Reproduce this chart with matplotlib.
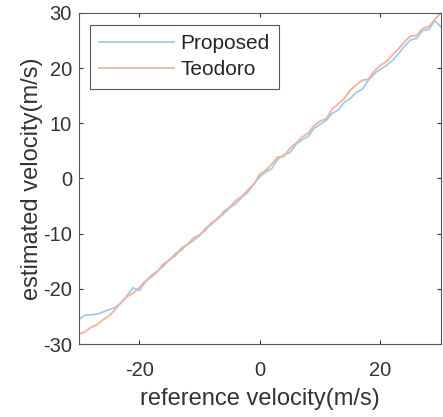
import numpy as np
import matplotlib.pyplot as plt
from matplotlib.ticker import FuncFormatter

plt.rcParams['font.family'] = ['Liberation Sans', 'DejaVu Sans']

ref = np.arange(-30, 31, 1)
proposed = [-25.5, -24.8, -24.7, -24.6, -24.2, -23.8, -23.4, -22.5, -21.2, -19.8,
            -20.3, -18.8, -17.6, -16.8, -15.9, -14.7, -14.0, -12.6, -12.0, -11.2,
            -10.4, -9.0, -8.3, -7.2, -6.4, -5.3, -4.6, -3.4, -2.5, -1.0,
            0.3, 1.2, 1.8, 3.5, 4.3, 4.7, 6.2, 7.0, 7.6, 9.1,
            9.8, 10.5, 11.8, 12.4, 13.8, 14.5, 15.6, 16.2, 17.8, 19.0,
            19.8, 20.5, 21.4, 22.6, 24.0, 25.1, 25.4, 26.8, 27.0, 28.6, 27.5]
teodoro = [-28.2, -27.8, -27.0, -26.5, -25.6, -24.9, -23.8, -22.5, -21.4, -20.8,
           -19.8, -18.6, -17.9, -16.9, -15.5, -14.8, -13.6, -13.0, -11.9, -10.8,
           -10.2, -9.4, -8.0, -7.4, -6.0, -5.2, -4.0, -3.3, -2.1, -1.1,
           0.8, 1.5, 2.6, 3.9, 4.0, 5.5, 6.4, 7.5, 8.2, 9.6,
           10.4, 10.8, 12.6, 13.5, 14.5, 16.0, 17.0, 17.8, 18.0, 19.5,
           20.5, 21.2, 22.4, 23.5, 24.8, 25.8, 25.9, 27.2, 27.5, 28.8, 30.0]

fig = plt.figure(figsize=(4.43, 4.17), dpi=100)
ax = fig.add_axes([0.178, 0.175, 0.817, 0.794])

ax.plot(ref, proposed, color='#a3cbe9', lw=1.3, label='Proposed')
ax.plot(ref, teodoro, color='#f1b39b', lw=1.3, label='Teodoro')

ax.set_xlim(-30, 30)
ax.set_ylim(-30, 30)
ax.set_xticks([-20, 0, 20])
ax.set_yticks(np.arange(-30, 31, 10))
fmt = FuncFormatter(lambda v, p: '%d' % v)
ax.xaxis.set_major_formatter(fmt)
ax.yaxis.set_major_formatter(fmt)
ax.tick_params(direction='in', top=True, right=True, labelsize=14.5,
               colors='#333333', length=3, pad=5)
ax.tick_params(axis='x', pad=12)
for s in ax.spines.values():
    s.set_color('#555555')
    s.set_linewidth(0.8)

ax.set_xlabel('reference velocity(m/s)', fontsize=17, color='#333333', labelpad=6)
ax.set_ylabel('estimated velocity(m/s)', fontsize=17, color='#333333', labelpad=0)

leg = ax.legend(loc='upper left', fontsize=15, fancybox=False, framealpha=1,
                edgecolor='#555555', handlelength=3.6, handletextpad=0.3,
                borderpad=0.45, labelspacing=0.35, borderaxespad=0,
                bbox_to_anchor=(0.03, 0.965))
leg.get_frame().set_linewidth(0.8)
for t in leg.get_texts():
    t.set_color('#262626')

fig.savefig('out.png', dpi=100)
